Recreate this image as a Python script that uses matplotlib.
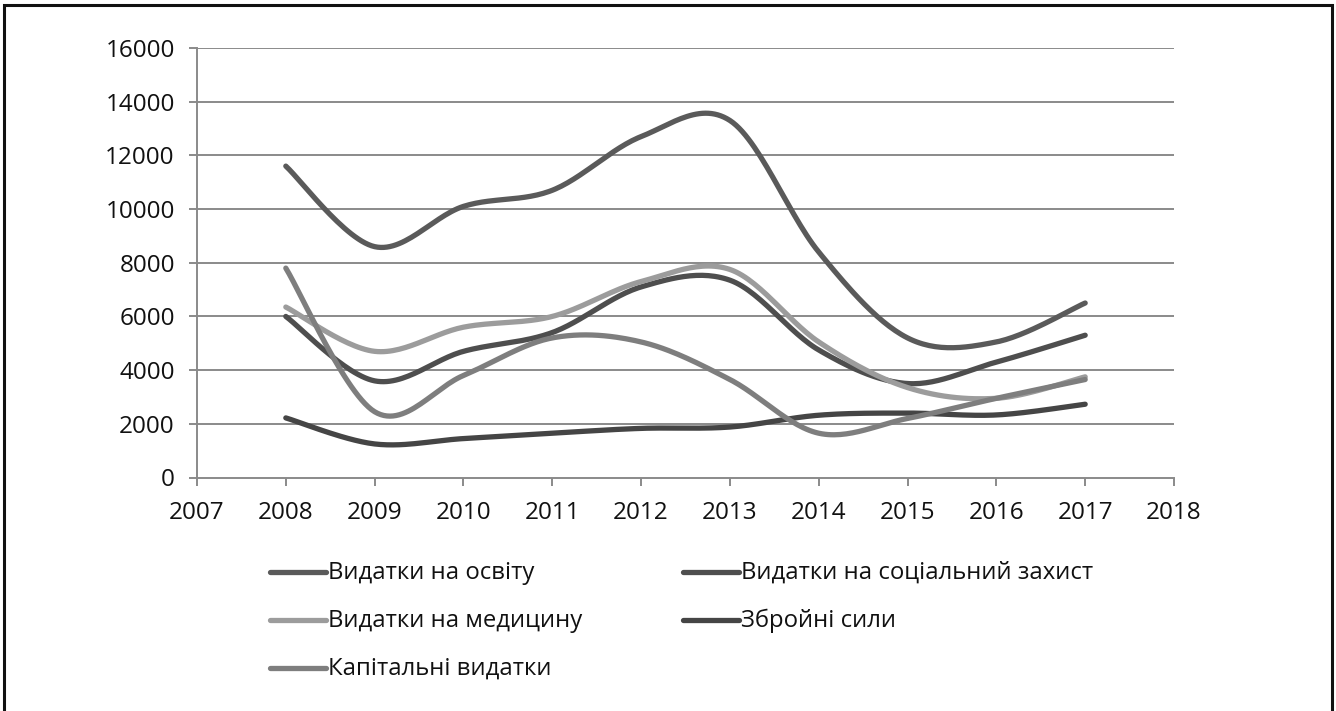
import matplotlib
matplotlib.use("Agg")
import matplotlib.pyplot as plt
import numpy as np
from matplotlib.lines import Line2D
from matplotlib.patches import Rectangle

plt.rcParams['font.family'] = ['Open Sans', 'DejaVu Sans']

years = [2008, 2009, 2010, 2011, 2012, 2013, 2014, 2015, 2016, 2017]
education = [11600, 8600, 10100, 10700, 12700, 13300, 8400, 5200, 5050, 6500]
social = [6000, 3600, 4700, 5400, 7100, 7350, 4750, 3500, 4300, 5300]
medicine = [6350, 4700, 5600, 6000, 7300, 7750, 5050, 3350, 2950, 3750]
armed = [2220, 1250, 1450, 1650, 1830, 1880, 2320, 2400, 2330, 2730]
capital = [7800, 2450, 3800, 5200, 5050, 3650, 1650, 2200, 2950, 3650]

labels = ["Видатки на освіту", "Видатки на соціальний захист",
          "Видатки на медицину", "Збройні сили", "Капітальні видатки"]
colors = ["#5a5a5a", "#4e4e4e", "#9c9c9c", "#454545", "#7e7e7e"]
series = [education, social, medicine, armed, capital]

xticks = list(range(2007, 2019))
yticks = list(range(0, 16001, 2000))


def smooth(x, y, n=30):
    # Excel-style smoothed line: cubic Bezier segments with Catmull-Rom control points
    x = np.asarray(x, float)
    y = np.asarray(y, float)
    P = np.column_stack([x, y])
    out = []
    m = len(P)
    for i in range(m - 1):
        p0 = P[i - 1] if i > 0 else P[i]
        p1 = P[i]
        p2 = P[i + 1]
        p3 = P[i + 2] if i + 2 < m else P[i + 1]
        c1 = p1 + (p2 - p0) / 6.0
        c2 = p2 - (p3 - p1) / 6.0
        t = np.linspace(0, 1, n)[:, None]
        seg = ((1 - t) ** 3) * p1 + 3 * ((1 - t) ** 2) * t * c1 + 3 * (1 - t) * t ** 2 * c2 + t ** 3 * p2
        out.append(seg if i == 0 else seg[1:])
    out = np.vstack(out)
    return out[:, 0], out[:, 1]


W, H = 1336, 711
fig = plt.figure(figsize=(W / 100, H / 100), dpi=100)
ax = fig.add_axes([197 / W, 1 - 477.5 / H, (1174 - 197) / W, (477.5 - 48) / H])

grid_color = "#8a8a8a"
for yv in yticks[1:]:
    ax.axhline(yv, color=grid_color, lw=1.4, zorder=1)

for s, c, lab in zip(series, colors, labels):
    xs, ys = smooth(years, s)
    ax.plot(xs, ys, color=c, lw=3.8, solid_capstyle='round', zorder=3, label=lab)

ax.set_xlim(2007, 2018)
ax.set_ylim(0, 16000)
ax.set_xticks(xticks)
ax.set_yticks(yticks)
ax.set_xticklabels([str(v) for v in xticks])
ax.set_yticklabels([str(v) for v in yticks])
for sp in ["top", "right"]:
    ax.spines[sp].set_visible(False)
for sp in ["left", "bottom"]:
    ax.spines[sp].set_color(grid_color)
    ax.spines[sp].set_linewidth(1.4)
ax.tick_params(axis='both', direction='out', length=6, width=1.4, color=grid_color,
               labelsize=17.5, labelcolor="#111111")
ax.tick_params(axis='y', pad=10)
ax.tick_params(axis='x', pad=11)

# legend, drawn in figure pixel coordinates
leg_pos = [(270, 572), (683, 572), (270, 620), (683, 620), (270, 668)]
for (lx, ly), c, lab in zip(leg_pos, colors, labels):
    fig.add_artist(Line2D([lx / W, (lx + 56) / W], [1 - ly / H, 1 - ly / H],
                          transform=fig.transFigure, color=c, lw=3.8, solid_capstyle='round'))
    fig.text((lx + 58) / W, 1 - (ly + 1) / H, lab, fontsize=17.2, color="#111111",
             va='center', ha='left')

# outer frame
fig.add_artist(Rectangle((4 / W, -0.01), (1332 - 4) / W, 1 - 5 / H + 0.01,
                         transform=fig.transFigure, fill=False, edgecolor="#111111", lw=2.2))

fig.savefig("out.png", dpi=100)
